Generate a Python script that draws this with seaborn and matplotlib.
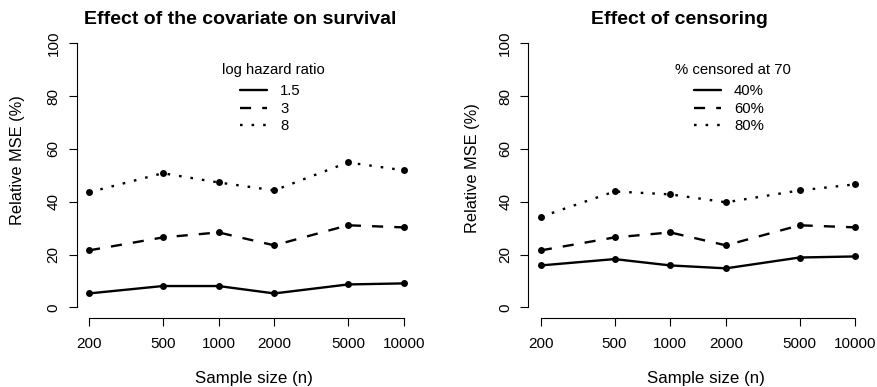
import numpy as np
import pandas as pd
import matplotlib
matplotlib.use("Agg")
import matplotlib.pyplot as plt
import seaborn as sns
from matplotlib.lines import Line2D

sns.set_style("white")
plt.rcParams['font.family'] = ['Liberation Sans', 'DejaVu Sans']
plt.rcParams['text.color'] = 'black'
plt.rcParams['axes.labelcolor'] = 'black'
plt.rcParams['xtick.color'] = 'black'
plt.rcParams['ytick.color'] = 'black'

sample_sizes = [200, 500, 1000, 2000, 5000, 10000]
tick_labels = ["200", "500", "1000", "2000", "5000", "10000"]

# Left panel: log hazard ratio
hr_labels = ["1.5", "3", "8"]
hr_1_5 = [5.3, 8.1, 8.1, 5.3, 8.7, 9.1]
hr_3 = [21.6, 26.5, 28.4, 23.5, 31.1, 30.3]
hr_8 = [43.6, 50.8, 47.3, 44.3, 54.9, 51.9]

# Right panel: % censored at 70
cens_labels = ["40%", "60%", "80%"]
cens_40 = [15.9, 18.3, 15.9, 14.8, 18.9, 19.3]
cens_60 = [21.6, 26.5, 28.4, 23.5, 31.1, 30.3]
cens_80 = [34.3, 43.9, 42.8, 39.8, 44.3, 46.6]

W, H = 877, 387
fig = plt.figure(figsize=(W / 100, H / 100), dpi=100)

LW = 1.7
styles = ['-', (0, (4.7, 4.7)), (0, (1.1, 3.8))]


def px_axes(l, r, t, b):
    return fig.add_axes([l / W, 1 - b / H, (r - l) / W, (b - t) / H])


def draw_panel(ax, series, labels, title, leg_x, title_cx):
    for vals, ls in zip(series, styles):
        sns.lineplot(x=sample_sizes, y=vals, ax=ax, color='black', linestyle=ls,
                     linewidth=LW, marker='o', markersize=5, markeredgewidth=0,
                     dash_capstyle='butt')
    ax.set_xscale('log')
    ext = 10 ** (np.log10(10000 / 200) * 0.04)
    ax.set_xlim(200 / ext, 10000 * ext)
    ax.set_ylim(-4, 104)
    ax.set_xticks(sample_sizes)
    ax.set_xticklabels(tick_labels)
    ax.xaxis.set_minor_locator(matplotlib.ticker.NullLocator())
    ax.set_yticks([0, 20, 40, 60, 80, 100])
    ax.set_yticklabels(["0", "20", "40", "60", "80", "100"], rotation=90, va='center')
    for s in ['top', 'right']:
        ax.spines[s].set_visible(False)
    ax.spines['left'].set_bounds(0, 100)
    ax.spines['bottom'].set_bounds(200, 10000)
    for s in ['left', 'bottom']:
        ax.spines[s].set_color('black')
        ax.spines[s].set_linewidth(0.8)
    ax.tick_params(axis='both', direction='out', length=5.5, width=0.8,
                   colors='black', labelsize=11, left=True, bottom=True)
    ax.tick_params(axis='x', pad=8)
    ax.tick_params(axis='y', pad=6)
    ax.set_xlabel("")
    ax.set_ylabel("")
    ax.set_facecolor('white')
    handles = [Line2D([], [], color='black', linestyle=ls, linewidth=LW, dash_capstyle='butt')
               for ls in styles]
    ax.legend(handles, labels, loc='upper left',
              bbox_to_anchor=(leg_x / W, 1 - 84 / H), bbox_transform=fig.transFigure,
              frameon=False, fontsize=10.7, borderpad=0, borderaxespad=0,
              handlelength=1.85, handletextpad=0.85, labelspacing=0.25)
    fig.text(title_cx / W, 1 - 19 / H, title, ha='center', va='center',
             fontsize=14, fontweight='bold')


axL = px_axes(76.5, 416.3, 32.7, 318)
axR = px_axes(528.3, 867.9, 32.7, 318)

draw_panel(axL, [hr_1_5, hr_3, hr_8], hr_labels, "Effect of the covariate on survival",
           240, 240)
draw_panel(axR, [cens_40, cens_60, cens_80], cens_labels, "Effect of censoring",
           694, 679)

fig.text(273 / W, 1 - 70 / H, "log hazard ratio", ha='center', va='center', fontsize=10.7)
fig.text(733 / W, 1 - 70 / H, "% censored at 70", ha='center', va='center', fontsize=10.7)

fig.text(254 / W, 1 - 378 / H, "Sample size (n)", ha='center', va='center', fontsize=12.2)
fig.text(706 / W, 1 - 378 / H, "Sample size (n)", ha='center', va='center', fontsize=12.2)
fig.text(17.5 / W, 1 - 160 / H, "Relative MSE (%)", ha='center', va='center',
         fontsize=11.8, rotation=90)
fig.text(473 / W, 1 - 168.5 / H, "Relative MSE (%)", ha='center', va='center',
         fontsize=11.8, rotation=90)

fig.savefig("out.png", dpi=100, facecolor='white')
